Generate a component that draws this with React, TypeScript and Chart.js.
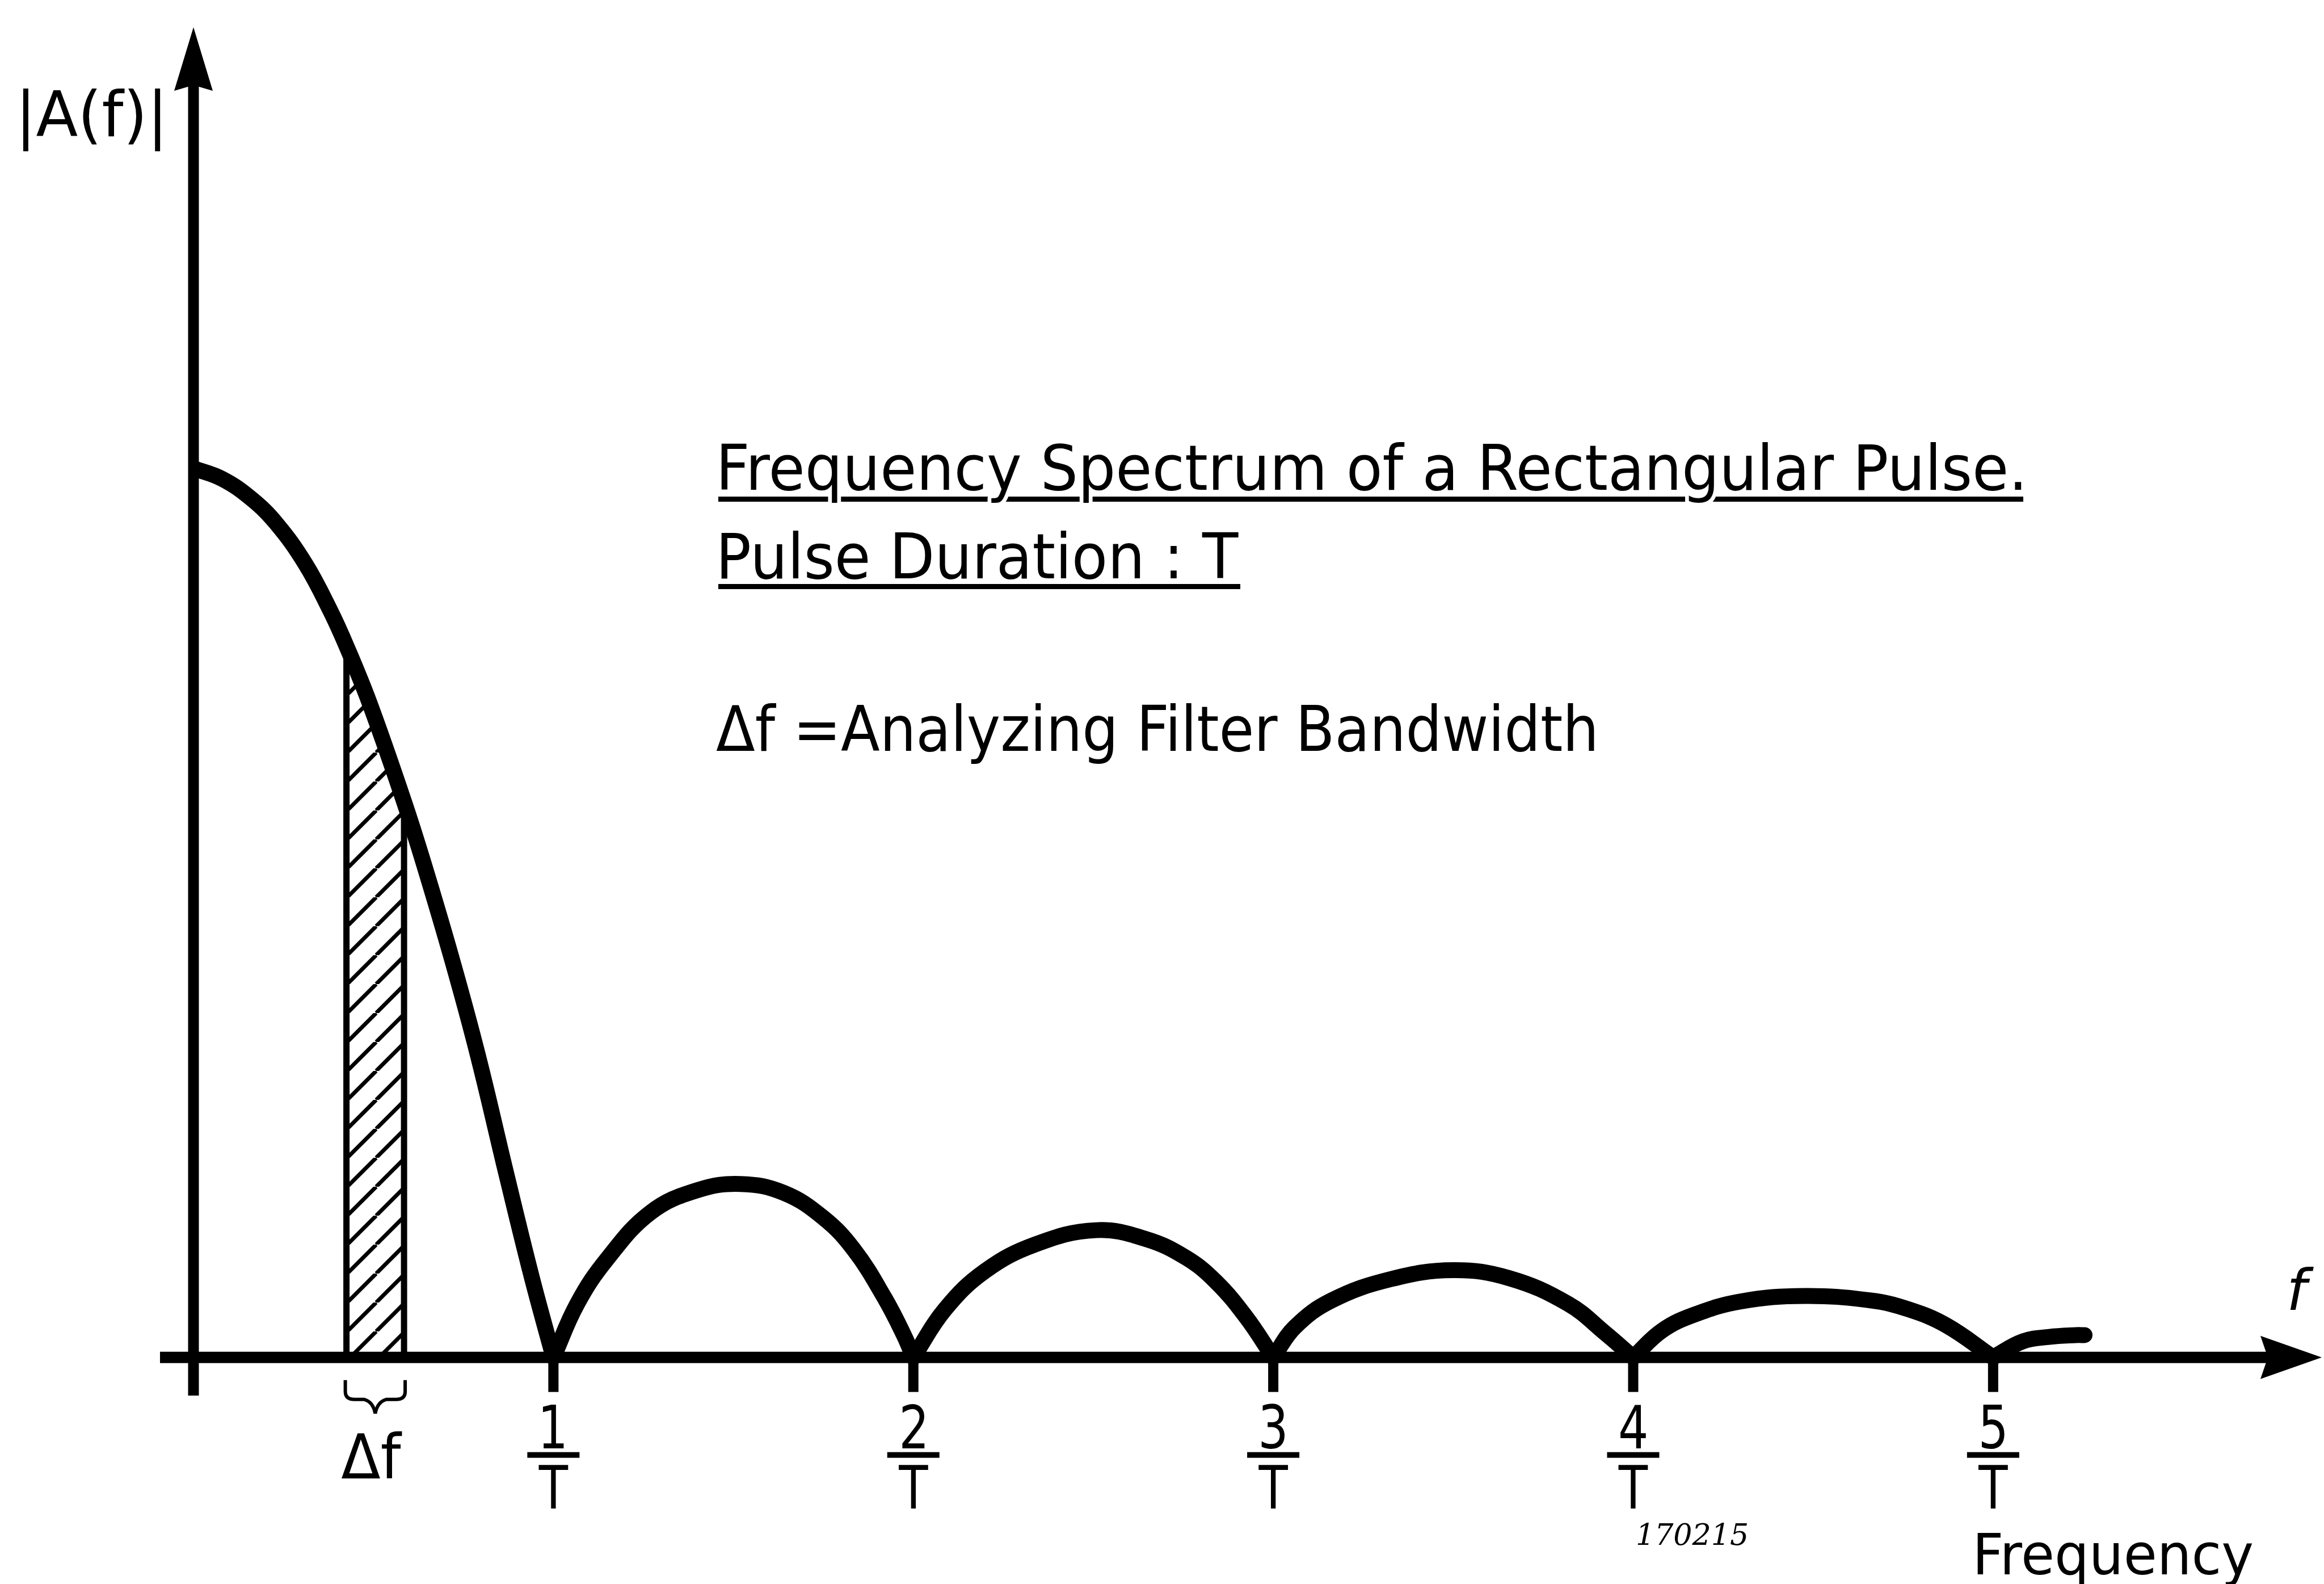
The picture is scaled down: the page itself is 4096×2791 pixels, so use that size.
import React, { useEffect, useRef } from 'react';
import { Chart, registerables } from 'chart.js';

Chart.register(...registerables);

// ---- data (x in units of 1/T, amplitude relative to |A(0)|) ----
const mainLobeFreq = [0, 0.08, 0.16, 0.23, 0.31, 0.38, 0.425, 0.49, 0.585, 0.64, 0.72, 0.79, 0.87, 0.94, 1.0];
const mainLobeAmp = [1.0, 0.988, 0.966, 0.938, 0.893, 0.84, 0.8, 0.735, 0.625, 0.555, 0.445, 0.34, 0.205, 0.09, 0];

const sideLobe1Freq = [1.0, 1.066, 1.148, 1.27, 1.4, 1.52, 1.64, 1.75, 1.835, 1.92, 1.975, 2.0];
const sideLobe1Amp = [0, 0.06, 0.11, 0.163, 0.188, 0.195, 0.185, 0.157, 0.121, 0.067, 0.024, 0];

const sideLobe2Freq = [2.0, 2.088, 2.199, 2.339, 2.507, 2.647, 2.758, 2.841, 2.925, 3.0];
const sideLobe2Amp = [0, 0.054, 0.097, 0.127, 0.143, 0.133, 0.112, 0.085, 0.045, 0];

const sideLobe3Freq = [3.0, 3.06, 3.162, 3.327, 3.5, 3.656, 3.82, 3.923, 4.0];
const sideLobe3Amp = [0, 0.034, 0.064, 0.088, 0.098, 0.089, 0.06, 0.027, 0];

const sideLobe4Freq = [4.0, 4.08, 4.17, 4.3, 4.476, 4.66, 4.765, 4.87, 5.0];
const sideLobe4Amp = [0, 0.03, 0.048, 0.063, 0.069, 0.064, 0.054, 0.036, 0];

const tailFreq = [5.0, 5.083, 5.156, 5.23, 5.254];
const tailAmp = [0, 0.018, 0.023, 0.025, 0.025];

// analyzing filter band (hatched)
const bandStart = 0.425;
const bandEnd = 0.585;

// axis ticks
const tickValues = [1, 2, 3, 4, 5];
const tickNumerators = ['1', '2', '3', '4', '5'];
const tickDenominator = 'T';

// texts
const yAxisLabel = '|A(f)|';
const xAxisSymbol = 'f';
const xAxisLabel = 'Frequency';
const titleLine1 = 'Frequency Spectrum of a Rectangular Pulse.';
const titleLine2 = 'Pulse Duration : T';
const noteLine = 'Δf =Analyzing Filter Bandwidth';
const bandLabel = 'Δf';
const drawingNumber = '170215';

const FONT = '"DejaVu Sans", "Liberation Sans", sans-serif';

type TextOpts = {
  align?: 'left' | 'center' | 'right';
  width?: number;
  sx?: number;
  italic?: boolean;
  family?: string;
  knockout?: number;
};

function drawText(ctx: CanvasRenderingContext2D, text: string, x: number, y: number, size: number, o: TextOpts = {}) {
  ctx.save();
  ctx.font = `${o.italic ? 'italic ' : ''}${size}px ${o.family ?? FONT}`;
  ctx.textBaseline = 'alphabetic';
  ctx.textAlign = 'left';
  const m = ctx.measureText(text);
  const inkL = m.actualBoundingBoxLeft;
  const inkW = m.actualBoundingBoxRight + m.actualBoundingBoxLeft;
  const sx = o.width ? o.width / inkW : o.sx ?? 1;
  const drawnW = inkW * sx;
  let left = x;
  if (o.align === 'center') left = x - drawnW / 2;
  else if (o.align === 'right') left = x - drawnW;
  ctx.translate(left, y);
  ctx.scale(sx, 1);
  if (o.knockout) {
    ctx.strokeStyle = '#fff';
    ctx.lineWidth = o.knockout;
    ctx.lineJoin = 'round';
    ctx.strokeText(text, inkL, 0);
  }
  ctx.fillStyle = '#000';
  ctx.fillText(text, inkL, 0);
  ctx.restore();
}

function toPoints(fs: number[], as: number[]) {
  return fs.map((f, i) => ({ x: f, y: as[i] }));
}

function ampAt(f: number) {
  const i = mainLobeFreq.indexOf(f);
  return mainLobeAmp[i];
}

const drawingPlugin = {
  id: 'drawing',
  afterDatasetsDraw(chart: any) {
    const ctx: CanvasRenderingContext2D = chart.ctx;
    const xs = chart.scales.x;
    const ys = chart.scales.y;
    const area = chart.chartArea;
    const X = (v: number) => xs.getPixelForValue(v);
    const Y = (v: number) => ys.getPixelForValue(v);
    const x0 = X(0);
    const y0 = Y(0);

    ctx.save();
    ctx.fillStyle = '#000';
    ctx.strokeStyle = '#000';
    ctx.lineCap = 'butt';

    // y axis with arrow
    ctx.lineWidth = 19;
    ctx.beginPath();
    ctx.moveTo(x0, area.bottom);
    ctx.lineTo(x0, area.top + 95);
    ctx.stroke();
    ctx.beginPath();
    ctx.moveTo(x0, area.top);
    ctx.lineTo(x0 + 34, area.top + 112);
    ctx.lineTo(x0, area.top + 102);
    ctx.lineTo(x0 - 34, area.top + 112);
    ctx.closePath();
    ctx.fill();

    // x axis with arrow
    ctx.lineWidth = 20;
    ctx.beginPath();
    ctx.moveTo(area.left, y0);
    ctx.lineTo(area.right - 90, y0);
    ctx.stroke();
    ctx.beginPath();
    ctx.moveTo(area.right, y0);
    ctx.lineTo(area.right - 108, y0 - 38);
    ctx.lineTo(area.right - 95, y0);
    ctx.lineTo(area.right - 108, y0 + 38);
    ctx.closePath();
    ctx.fill();

    // ticks and fraction labels
    tickValues.forEach((v, i) => {
      const px = X(v);
      ctx.fillRect(px - 9, y0, 18, 61);
      drawText(ctx, tickNumerators[i], px, y0 + 160, 105, { align: 'center', sx: 0.8 });
      ctx.fillRect(px - 46, y0 + 167, 92, 10);
      drawText(ctx, tickDenominator, px, y0 + 266, 105, { align: 'center', sx: 0.8 });
    });

    // hatch borders
    ctx.lineWidth = 11;
    [bandStart, bandEnd].forEach((f) => {
      ctx.beginPath();
      ctx.moveTo(X(f), y0);
      ctx.lineTo(X(f), Y(ampAt(f)));
      ctx.stroke();
    });

    // brace under the band
    const cx = (X(bandStart) + X(bandEnd)) / 2;
    const half = (X(bandEnd) - X(bandStart)) / 2 + 2;
    const top = y0 + 40;
    const bottom = y0 + 99;
    ctx.lineWidth = 6;
    ctx.lineJoin = 'round';
    for (const s of [-1, 1]) {
      ctx.beginPath();
      ctx.moveTo(cx + s * half, top);
      ctx.lineTo(cx + s * half, top + 20);
      ctx.quadraticCurveTo(cx + s * half, top + 34, cx + s * (half - 16), top + 34);
      ctx.lineTo(cx + s * 20, top + 34);
      ctx.quadraticCurveTo(cx + s * 4, top + 38, cx, bottom);
      ctx.stroke();
    }
    drawText(ctx, bandLabel, cx - 6, y0 + 213, 108, { align: 'center', width: 108 });

    // axis labels
    drawText(ctx, yAxisLabel, 40, 240, 110, { width: 243 });
    drawText(ctx, xAxisSymbol, 4036, 2308, 100, { italic: true });
    drawText(ctx, xAxisLabel, 3485, 2774, 100, { width: 485 });
    drawText(ctx, drawingNumber, 2886, 2722, 52, { italic: true, family: '"DejaVu Serif", serif', width: 193 });

    // title block with underlines
    ctx.fillRect(1266, 875, 2300, 9);
    ctx.fillRect(1266, 1029, 920, 9);
    drawText(ctx, titleLine1, 1271, 863, 110, { width: 2292, knockout: 14 });
    drawText(ctx, titleLine2, 1271, 1019, 110, { width: 912, knockout: 14 });
    drawText(ctx, noteLine, 1262, 1323, 110, { width: 1548 });

    ctx.restore();
  },
};

function makeHatch(): CanvasPattern | string {
  const p = 51;
  const c = document.createElement('canvas');
  c.width = p;
  c.height = p;
  const g = c.getContext('2d');
  if (!g) return '#000';
  g.strokeStyle = '#000';
  g.lineWidth = 7;
  g.beginPath();
  for (const k of [-1, 0, 1]) {
    g.moveTo(k * p, p);
    g.lineTo(k * p + p, 0);
  }
  g.stroke();
  const pat = g.createPattern(c, 'repeat');
  return pat ?? '#000';
}

export default function App() {
  const ref = useRef<HTMLCanvasElement>(null);

  useEffect(() => {
    document.body.style.margin = '0';
    const canvas = ref.current;
    if (!canvas) return;

    const bandPoints = toPoints(mainLobeFreq, mainLobeAmp).filter((p) => p.x >= bandStart && p.x <= bandEnd);

    const lobe = (fs: number[], as: number[], cap: 'butt' | 'round') => ({
      type: 'line' as const,
      data: toPoints(fs, as),
      borderColor: '#000',
      borderWidth: 28,
      borderCapStyle: cap,
      borderJoinStyle: 'round' as const,
      pointRadius: 0,
      fill: false,
      tension: 0.4,
      order: 1,
    });

    const chart = new Chart(canvas, {
      type: 'line',
      data: {
        datasets: [
          {
            data: bandPoints,
            borderWidth: 0,
            borderColor: 'rgba(0,0,0,0)',
            backgroundColor: makeHatch() as any,
            fill: 'origin',
            pointRadius: 0,
            tension: 0.4,
            order: 2,
          },
          lobe(mainLobeFreq, mainLobeAmp, 'butt'),
          lobe(sideLobe1Freq, sideLobe1Amp, 'round'),
          lobe(sideLobe2Freq, sideLobe2Amp, 'round'),
          lobe(sideLobe3Freq, sideLobe3Amp, 'round'),
          lobe(sideLobe4Freq, sideLobe4Amp, 'round'),
          lobe(tailFreq, tailAmp, 'round'),
        ] as any,
      },
      options: {
        responsive: false,
        animation: false,
        devicePixelRatio: 1,
        layout: { padding: { left: 282, right: 4, top: 48, bottom: 332 } },
        plugins: { legend: { display: false }, tooltip: { enabled: false }, title: { display: false } },
        events: [],
        scales: {
          x: { type: 'linear', min: -0.093, max: 5.913, display: false },
          y: { type: 'linear', min: -0.043, max: 1.496, display: false },
        },
      },
      plugins: [drawingPlugin],
    });

    return () => chart.destroy();
  }, []);

  return (
    <div style={{ position: 'fixed', left: 0, top: 0, width: 4096, height: 2791, background: '#fff' }}>
      <canvas ref={ref} width={4096} height={2791} style={{ display: 'block', width: 4096, height: 2791 }} />
    </div>
  );
}
